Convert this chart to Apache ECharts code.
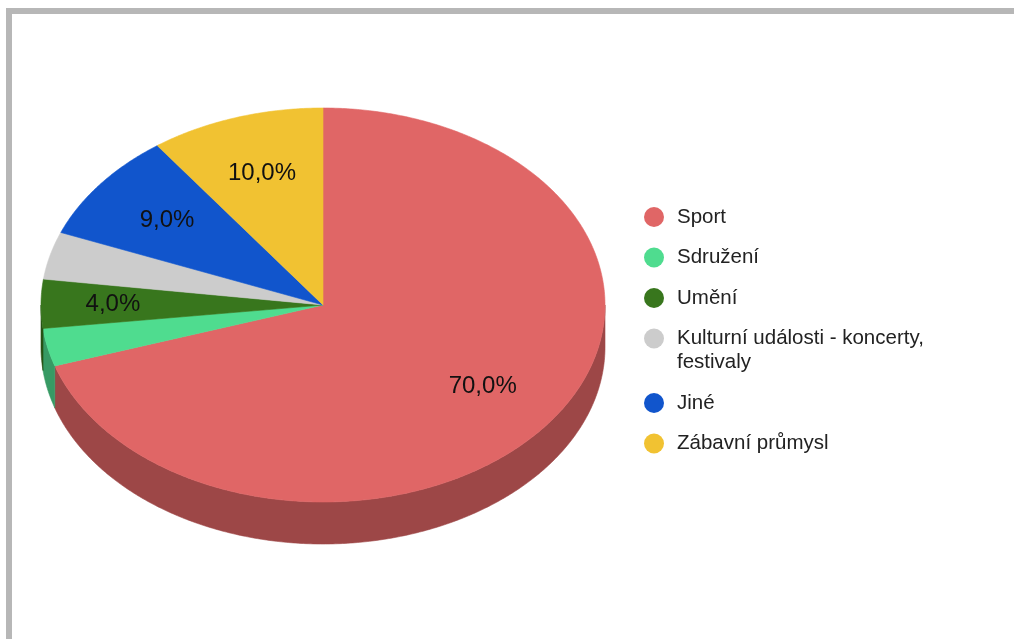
<!DOCTYPE html>
<html>
<head>
<meta charset="utf-8">
<style>
  html, body { margin: 0; padding: 0; background: #ffffff; }
  #chart { width: 1014px; height: 639px; }
</style>
<script src="https://cdn.jsdelivr.net/npm/echarts@6/dist/echarts.min.js"></script>
</head>
<body>
<div id="chart"></div>
<script>
// Categories and their shares (percent)
const categories = ['Sport', 'Sdružení', 'Umění', 'Kulturní události - koncerty, festivaly', 'Jiné', 'Zábavní průmysl'];
const shares = [70.0, 3.1, 4.0, 3.9, 9.0, 10.0];
const sliceColors = ['#e06666', '#4fdc8f', '#38761d', '#cccccc', '#1155cc', '#f1c232'];

// Tilted pie geometry
const PIE = { cx: 323, cy: 305, rx: 282, ry: 197, depth: 42 };
const LABEL_RADIUS = 0.7;
const LABEL_MIN_PERCENT = 4;
const LABEL_FONT_SIZE = 24;
const LABEL_BOX_H = 32;
const FONT = '"Liberation Sans", Arial, sans-serif';

const total = shares.reduce((s, v) => s + v, 0);
const startAngles = [];
shares.reduce((acc, v) => { startAngles.push(acc); return acc + v / total * Math.PI * 2; }, 0);

const measureCtx = document.createElement('canvas').getContext('2d');
function textWidth(text, size) {
  measureCtx.font = size + 'px ' + FONT;
  return measureCtx.measureText(text).width;
}

function shade(hex, k) {
  const n = parseInt(hex.slice(1), 16);
  const r = Math.round(((n >> 16) & 255) * k);
  const g = Math.round(((n >> 8) & 255) * k);
  const b = Math.round((n & 255) * k);
  return 'rgb(' + r + ',' + g + ',' + b + ')';
}

// angle measured clockwise from 12 o'clock
function pt(theta, dy) {
  return [PIE.cx + PIE.rx * Math.sin(theta), PIE.cy - PIE.ry * Math.cos(theta) + (dy || 0)];
}
function arc(a, b, dy) {
  const n = Math.max(2, Math.ceil((b - a) / (Math.PI / 360)));
  const out = [];
  for (let k = 0; k <= n; k++) out.push(pt(a + (b - a) * k / n, dy));
  return out;
}

// is a screen point inside the slice [a0, a1] of the top face?
function insideSlice(x, y, a0, a1) {
  const u = (x - PIE.cx) / PIE.rx, v = (y - PIE.cy) / PIE.ry;
  if (u * u + v * v > 1) return false;
  let t = Math.atan2(u, -v);
  if (t < 0) t += Math.PI * 2;
  return t >= a0 && t <= a1;
}

// push the label outward along the bisector until its box fits inside the slice
function labelPosition(a0, a1, w, h) {
  const mid = (a0 + a1) / 2;
  let k = LABEL_RADIUS, x, y;
  for (; k <= 0.95; k += 0.005) {
    x = PIE.cx + PIE.rx * k * Math.sin(mid);
    y = PIE.cy - PIE.ry * k * Math.cos(mid);
    const ok = [[-1, -1], [1, -1], [1, 1], [-1, 1]].every(c =>
      insideSlice(x + c[0] * w / 2, y + c[1] * h / 2, a0, a1));
    if (ok) break;
  }
  return [x, y];
}

function renderItem(params, api) {
  const i = params.dataIndex;
  const v = api.value(0);
  const a0 = startAngles[i];
  const a1 = a0 + v / total * Math.PI * 2;
  const color = sliceColors[i];
  const children = [];

  // visible outer wall (front half of the rim)
  const s = Math.max(a0, Math.PI / 2), e = Math.min(a1, Math.PI * 1.5);
  if (e > s) {
    const side = shade(color, 0.7);
    const pts = arc(s, e, 0).concat(arc(s, e, PIE.depth).reverse());
    children.push({
      type: 'polygon', shape: { points: pts },
      style: { fill: side, stroke: side, lineWidth: 0.6 }
    });
  }

  // top face
  const top = [[PIE.cx, PIE.cy]].concat(arc(a0, a1, 0));
  children.push({
    type: 'polygon', shape: { points: top },
    style: { fill: color, stroke: color, lineWidth: 0.6 }
  });

  // percentage label
  const pct = v / total * 100;
  if (pct >= LABEL_MIN_PERCENT - 1e-9) {
    const text = pct.toFixed(1).replace('.', ',') + '%';
    const p = labelPosition(a0, a1, textWidth(text, LABEL_FONT_SIZE), LABEL_BOX_H);
    children.push({
      type: 'text', z2: 10, x: p[0], y: p[1],
      style: {
        text: text, fill: '#111111', font: LABEL_FONT_SIZE + 'px ' + FONT,
        align: 'center', verticalAlign: 'middle'
      }
    });
  }
  return { type: 'group', children: children };
}

// Legend built from the category list
const LEGEND = { x: 654, y: 217, r: 10, textX: 677, line: 24, gap: 16.5, width: 300, size: 20.5 };
function wrap(text, maxW) {
  const words = text.split(' ');
  const lines = [];
  let cur = '';
  words.forEach(w => {
    const t = cur ? cur + ' ' + w : w;
    if (cur && textWidth(t, LEGEND.size) > maxW) { lines.push(cur); cur = w; }
    else cur = t;
  });
  if (cur) lines.push(cur);
  return lines;
}
const legendItems = [];
let ly = LEGEND.y;
categories.forEach((name, i) => {
  const lines = wrap(name, LEGEND.width);
  legendItems.push({
    type: 'circle', shape: { cx: LEGEND.x, cy: ly, r: LEGEND.r },
    style: { fill: sliceColors[i] }
  });
  legendItems.push({
    type: 'text', x: LEGEND.textX, y: ly - LEGEND.line / 2,
    style: {
      text: lines.join('\n'), fill: '#222222', font: LEGEND.size + 'px ' + FONT,
      lineHeight: LEGEND.line, align: 'left', verticalAlign: 'top'
    }
  });
  ly += lines.length * LEGEND.line + LEGEND.gap;
});

const chart = echarts.init(document.getElementById('chart'), null, { renderer: 'canvas' });
chart.setOption({
  animation: false,
  backgroundColor: '#ffffff',
  graphic: [
    { type: 'rect', shape: { x: 6, y: 8, width: 1008, height: 6 }, style: { fill: '#b7b7b7' } },
    { type: 'rect', shape: { x: 6, y: 8, width: 6, height: 631 }, style: { fill: '#b7b7b7' } }
  ].concat(legendItems),
  series: [{
    type: 'custom',
    coordinateSystem: 'none',
    silent: true,
    renderItem: renderItem,
    data: shares.map(v => [v])
  }]
});
</script>
</body>
</html>
